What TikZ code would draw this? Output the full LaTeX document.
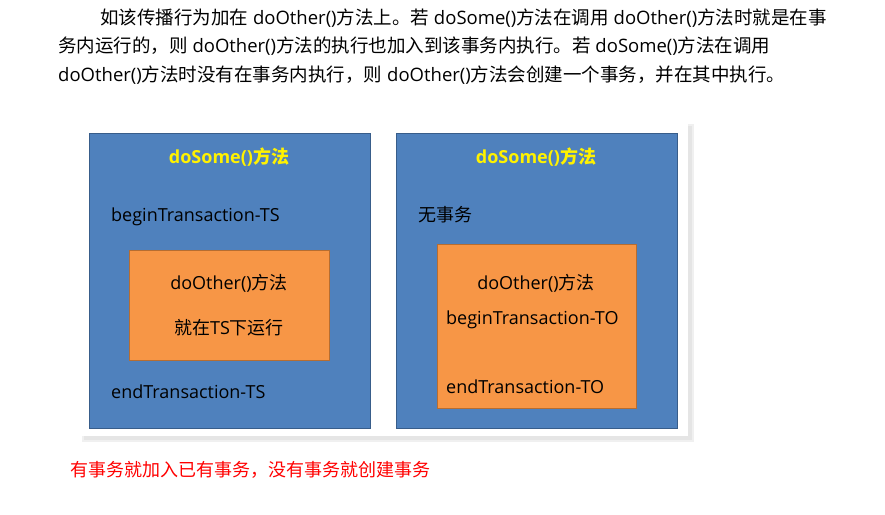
\documentclass[tikz,border=0pt]{standalone}
\usepackage{fontspec}
\setmainfont{Open Sans}
\newfontfamily\cjk{Noto Sans CJK SC}
\begin{document}
\begin{tikzpicture}[x=1pt,y=-1pt,
  para/.style={anchor=west,inner sep=0,font=\fontsize{18.5}{20}\selectfont},
  lbl/.style={inner sep=0,font=\fontsize{18}{20}\selectfont}]
\definecolor{bl}{HTML}{4F81BD}\definecolor{bld}{HTML}{385D8A}
\definecolor{orf}{HTML}{F79646}\definecolor{ord}{HTML}{B66D31}
\useasboundingbox (0,0) rectangle (885,514);
\node[para] (l1) at (100,18) {{\cjk 如该传播行为加在} doOther(){\cjk 方法上。若} doSome(){\cjk 方法在调用} doOther(){\cjk 方法时就是在事}};
\node[para] (l2) at (58,46) {{\cjk 务内运行的，则} doOther(){\cjk 方法的执行也加入到该事务内执行。若} doSome(){\cjk 方法在调用}};
\node[para] (l3) at (58,75) {doOther(){\cjk 方法时没有在事务内执行，则} doOther(){\cjk 方法会创建一个事务，并在其中执行。}};
\fill[black!6] (82,124) rectangle (694,442);
\fill[black!10] (84,126) rectangle (692,440);
\fill[white] (80,122) rectangle (688,436);
\node[draw=bld,fill=bl,line width=1.2,minimum width=281,minimum height=295,anchor=north west] (A) at (89,133) {};
\node[draw=bld,fill=bl,line width=1.2,minimum width=281,minimum height=295,anchor=north west] (B) at (396,133) {};
\node[draw=ord,fill=orf,line width=1,minimum width=200,minimum height=110,anchor=north west] (C) at (129,250) {};
\node[draw=ord,fill=orf,line width=1,minimum width=199,minimum height=164,anchor=north west] (D) at (437,244) {};
\node[lbl,text=yellow,font=\bfseries\fontsize{18}{20}\selectfont] (a1) at (229,157) {doSome(){\cjk\bfseries 方法}};
\node[lbl,anchor=west] (a2) at (111,217) {beginTransaction-TS};
\node[lbl] (a3) at (229,283) {doOther(){\cjk 方法}};
\node[lbl] (a4) at (229,328) {{\cjk 就在}TS{\cjk 下运行}};
\node[lbl,anchor=west] (a5) at (111,392) {endTransaction-TS};
\node[lbl,text=yellow,font=\bfseries\fontsize{18}{20}\selectfont] (b1) at (536,157) {doSome(){\cjk\bfseries 方法}};
\node[lbl,anchor=west] (b2) at (418,215) {\cjk 无事务};
\node[lbl] (b3) at (536,283) {doOther(){\cjk 方法}};
\node[lbl,anchor=west] (b4) at (446,320) {beginTransaction-TO};
\node[lbl,anchor=west] (b5) at (446,387) {endTransaction-TO};
\node[para,text=red,font=\fontsize{18}{20}\selectfont] (r) at (70,470) {\cjk 有事务就加入已有事务，没有事务就创建事务};
\end{tikzpicture}
\end{document}
